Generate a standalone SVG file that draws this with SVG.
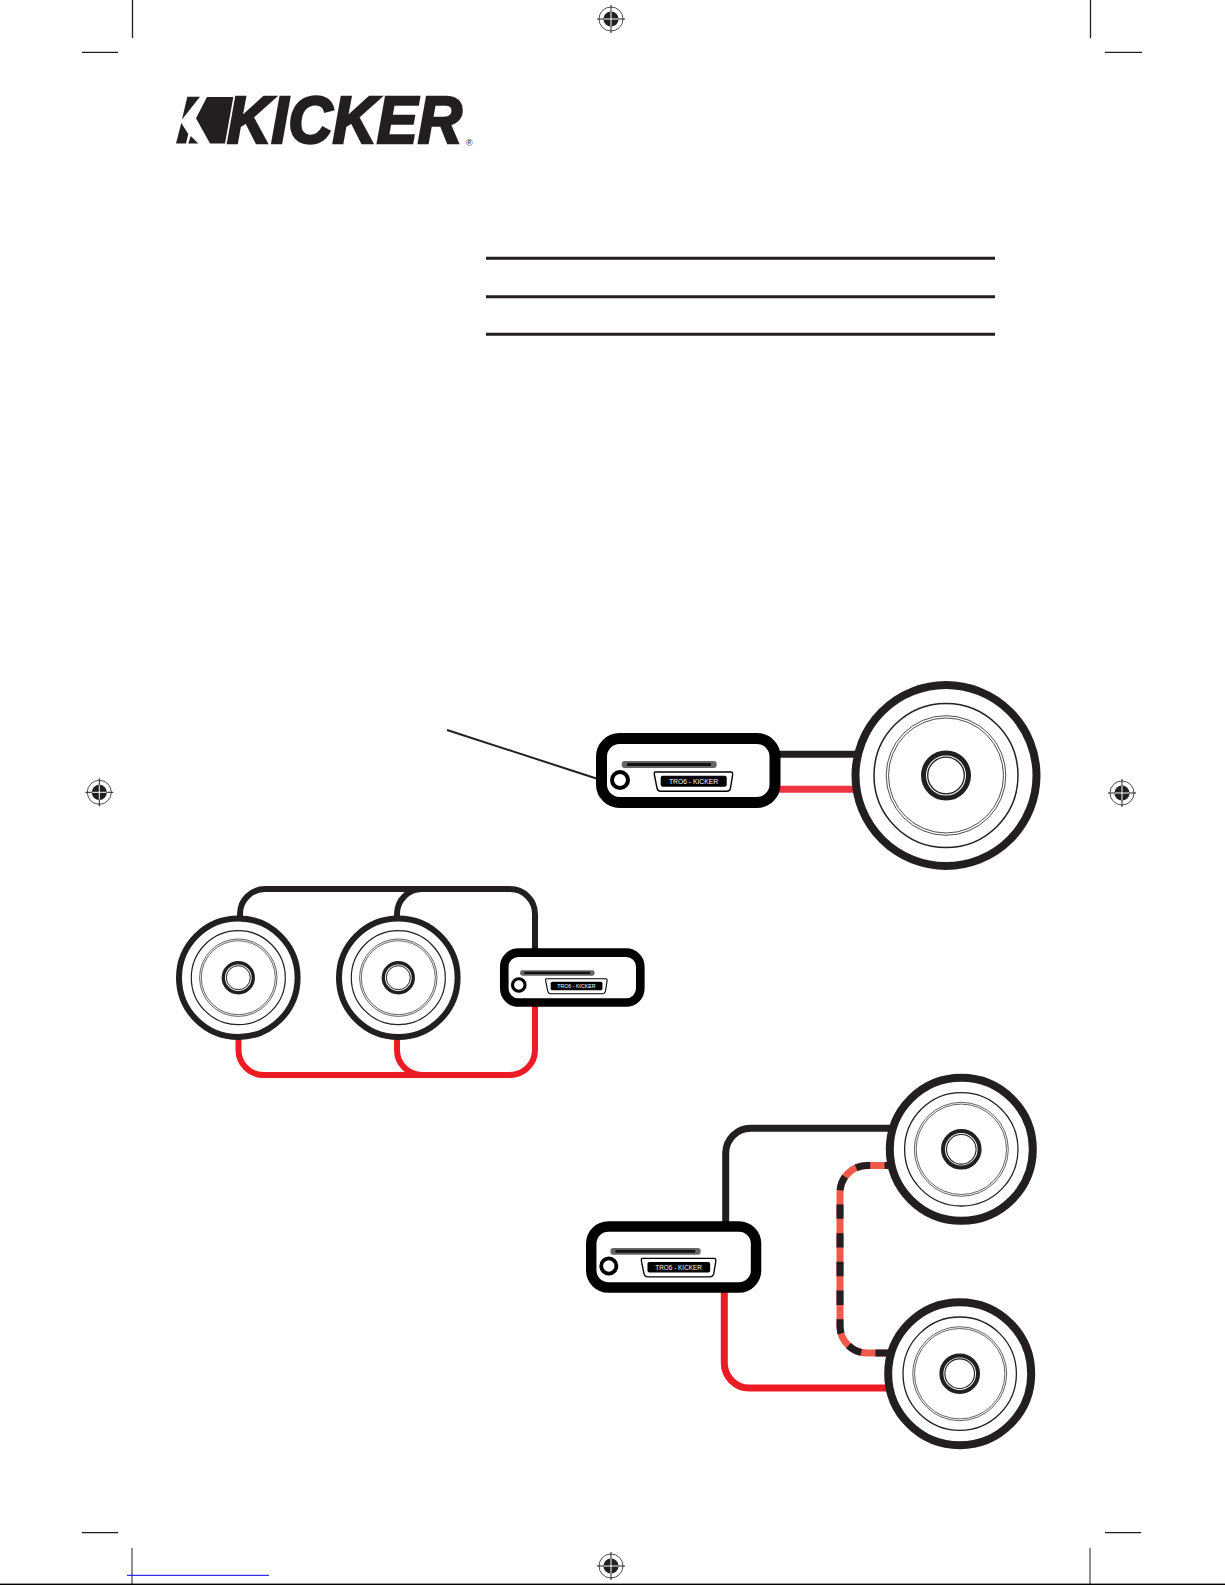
<svg xmlns="http://www.w3.org/2000/svg" width="1225" height="1585" viewBox="0 0 1225 1585">
<style>
.wb{stroke:#231f20;fill:none}
.wr{stroke:#ed1c24;fill:none}
.w6{stroke-width:6}
.w7{stroke-width:7}
.cone{fill:#fff;stroke:#231f20}
.thin{fill:none;stroke:#231f20}
.crop{stroke:#231f20;stroke-width:1.3;fill:none}
</style>
<defs>
<g id="reg">
<circle r="12" fill="#fff" stroke="#231f20" stroke-width="0.8"/>
<circle r="7.6" fill="#231f20"/>
<path d="M-8 0H8M0-8V8" stroke="#fff" stroke-width="1"/>
<path d="M-14 0H-7M7 0H14M0-14V-7M0 7V14" stroke="#231f20" stroke-width="1"/>
</g>
<g id="unit">
<rect x="601.5" y="738.5" width="173.5" height="64" rx="18" fill="#fff" stroke="#000" stroke-width="11"/>
<rect x="621.7" y="761" width="95" height="7" rx="3" fill="#666"/>
<rect x="627" y="763" width="84" height="3" fill="#111"/>
<circle cx="620" cy="780" r="8" fill="#fff" stroke="#000" stroke-width="4"/>
<path d="M655 772H731Q733 772 732.600 775L730.500 788Q729.800 791.300 726.500 791.300H661Q657.700 791.300 657 788L654.400 775Q654 772 655 772Z" fill="#fff" stroke="#000" stroke-width="1.400"/>
<rect x="660.700" y="775.700" width="66" height="11" rx="2" fill="#000"/>
<text x="669" y="784" font-family="'Liberation Sans',sans-serif" font-size="8" fill="#fff" opacity=".99" textLength="49" lengthAdjust="spacingAndGlyphs">TRO6 - KICKER</text>
</g>
</defs>
<rect width="1225" height="1585" fill="#fff"/>

<g id="crop-marks">
<path class="crop" d="M132.500 0V38M82 52.300H118M1090.500 0V38M1105 52.300H1142M82 1532.700H118M1105 1532.700H1141"/>
<path d="M132 1548V1585M1090 1548V1585" stroke="#231f20" stroke-width="1" fill="none"/>
<use href="#reg" x="611" y="19"/>
<use href="#reg" x="99.300" y="792.300"/>
<use href="#reg" x="1122" y="793"/>
<use href="#reg" x="611" y="1566"/>
<rect x="127" y="1574.800" width="142" height="1" fill="#0000ee"/>
<rect x="0" y="1583.600" width="1225" height="1.400" fill="#000"/>
</g>

<g id="logo">
<path fill="#231f20" d="M187.300 96.700H200L182 119.500ZM207 97H233.300L225 143.500H210L196 118.300ZM181.300 123L188.300 134L186 143.500H176ZM190.700 136L198.300 143.500H188.300Z"/>
<text x="227" y="143" font-family="'Liberation Sans',sans-serif" font-weight="700" font-style="italic" font-size="67" fill="#231f20" stroke="#231f20" stroke-width="2.600" textLength="235" lengthAdjust="spacingAndGlyphs">KICKER</text>
<text x="466" y="146" font-family="'Liberation Sans',sans-serif" font-size="9" fill="#231f20">®</text>
</g>

<g id="rules" stroke="#231f20" stroke-width="3">
<path d="M486 258.300H995M486 296.700H995M486 334.300H995"/>
</g>

<g id="connectors">
<path d="M447 730L601 780" stroke="#231f20" stroke-width="2" fill="none"/>
<path class="wb w7" d="M775 754.300H860"/>
<path class="w7" d="M775 789.300H860" stroke="#ef3340" fill="none"/>
<path class="wb w6" d="M240 918V914A25 25 0 0 1 265 889H510A25 25 0 0 1 535 914V950"/>
<path class="wb w6" d="M397 918V914A25 25 0 0 1 422 889H440"/>
<path class="wr w6" d="M238.500 1036V1050A25 25 0 0 0 263.500 1075H510A25 25 0 0 0 535 1050V1004"/>
<path class="wr w6" d="M397 1036V1050A25 25 0 0 0 422 1075H440"/>
<path class="wb w7" d="M725.700 1224V1153A25 25 0 0 1 750.700 1128.300H895"/>
<path class="wr w7" d="M724.300 1290V1363A25 25 0 0 0 749.300 1388H890"/>
<path d="M890 1165.500H867A27 27 0 0 0 840 1192.500V1326A27 27 0 0 0 867 1353H892" fill="none" stroke="#f15a4a" stroke-width="7"/>
<path d="M890 1165.500H867A27 27 0 0 0 840 1192.500V1326A27 27 0 0 0 867 1353H892" fill="none" stroke="#231f20" stroke-width="7" stroke-dasharray="14.350 14.350" stroke-dashoffset="-19.800"/>
</g>

<g id="head-unit-1"><use href="#unit"/></g>
<g id="head-unit-2"><use href="#unit" transform="translate(32.700 376.600) scale(.784 .78)"/></g>
<g id="head-unit-3"><use href="#unit" transform="translate(19.800 523.500) scale(.95 .952)"/></g>

<g id="speaker-1">
<circle class="cone" cx="946" cy="775.500" r="90.500" stroke-width="8"/>
<circle class="thin" cx="946" cy="775.500" r="72" stroke-width="1.500"/>
<circle class="thin" cx="946" cy="775.500" r="59.800" stroke-width=".8"/>
<circle class="thin" cx="946" cy="775.500" r="57.500" stroke-width=".8"/>
<circle class="thin" cx="946" cy="775.500" r="22.500" stroke-width="5"/>
<circle class="thin" cx="946" cy="775.500" r="18.300" stroke-width="1.300"/>
</g>
<g id="speaker-2">
<circle class="cone" cx="238.300" cy="977.700" r="59.300" stroke-width="6"/>
<circle class="thin" cx="238.300" cy="977.700" r="47" stroke-width="1.200"/>
<circle class="thin" cx="238.300" cy="977.700" r="38.700" stroke-width=".7"/>
<circle class="thin" cx="238.300" cy="977.700" r="37" stroke-width=".7"/>
<circle class="thin" cx="238.300" cy="977.700" r="15" stroke-width="3.400"/>
<circle class="thin" cx="238.300" cy="977.700" r="12" stroke-width="1"/>
</g>
<g id="speaker-3">
<circle class="cone" cx="398.300" cy="977.700" r="59.300" stroke-width="6"/>
<circle class="thin" cx="398.300" cy="977.700" r="47" stroke-width="1.200"/>
<circle class="thin" cx="398.300" cy="977.700" r="38.700" stroke-width=".7"/>
<circle class="thin" cx="398.300" cy="977.700" r="37" stroke-width=".7"/>
<circle class="thin" cx="398.300" cy="977.700" r="15" stroke-width="3.400"/>
<circle class="thin" cx="398.300" cy="977.700" r="12" stroke-width="1"/>
</g>
<g id="speaker-4">
<circle class="cone" cx="961.300" cy="1149.300" r="71.500" stroke-width="8"/>
<circle class="thin" cx="961.300" cy="1149.300" r="56.700" stroke-width="1.300"/>
<circle class="thin" cx="961.300" cy="1149.300" r="47" stroke-width=".7"/>
<circle class="thin" cx="961.300" cy="1149.300" r="45.200" stroke-width=".7"/>
<circle class="thin" cx="961.300" cy="1149.300" r="18.300" stroke-width="4"/>
<circle class="thin" cx="961.300" cy="1149.300" r="14.800" stroke-width="1.100"/>
</g>
<g id="speaker-5">
<circle class="cone" cx="959.700" cy="1373.700" r="71.500" stroke-width="8"/>
<circle class="thin" cx="959.700" cy="1373.700" r="56.700" stroke-width="1.300"/>
<circle class="thin" cx="959.700" cy="1373.700" r="47" stroke-width=".7"/>
<circle class="thin" cx="959.700" cy="1373.700" r="45.200" stroke-width=".7"/>
<circle class="thin" cx="959.700" cy="1373.700" r="18.300" stroke-width="4"/>
<circle class="thin" cx="959.700" cy="1373.700" r="14.800" stroke-width="1.100"/>
</g>
</svg>
